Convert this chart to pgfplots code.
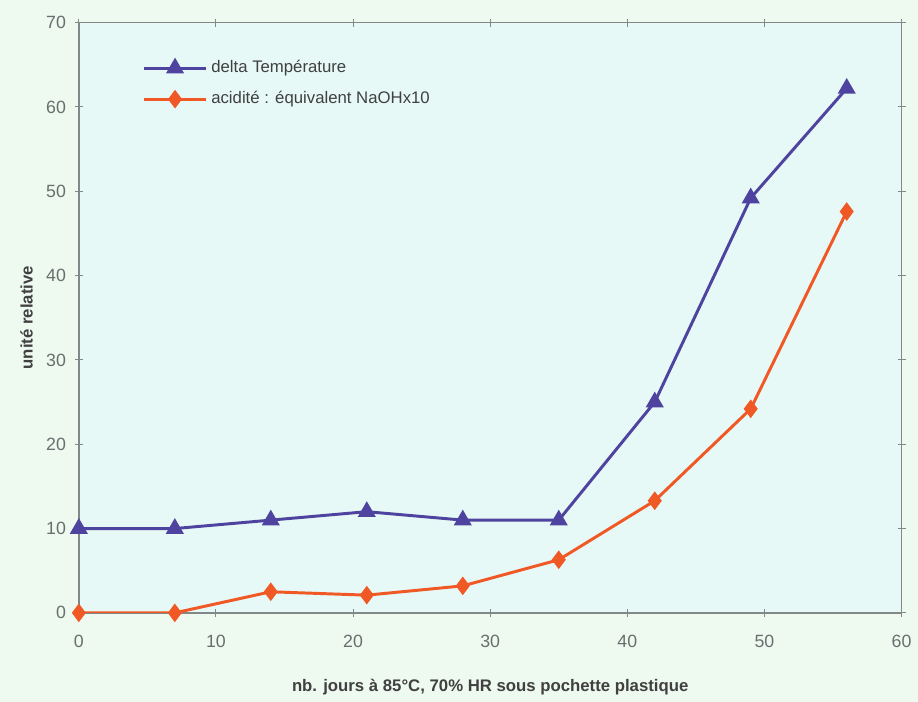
\documentclass[border=0pt]{standalone}
\usepackage{pgfplots}
\pgfplotsset{compat=1.18}
\usepackage{fontspec}
\setmainfont{Liberation Sans}
\usetikzlibrary{backgrounds}
\definecolor{bgc}{RGB}{238,249,240}
\definecolor{plotbg}{RGB}{230,249,246}
\definecolor{tblue}{RGB}{78,68,160}
\definecolor{torange}{RGB}{240,88,38}
\definecolor{axgray}{RGB}{130,135,135}
\definecolor{txtgray}{RGB}{105,110,110}
\begin{document}
\begin{tikzpicture}[show background rectangle, inner frame sep=0pt,
  background rectangle/.style={fill=bgc, draw=none}]
\begin{axis}[name=ax,
  width=417.5pt, height=299.5pt, scale only axis,
  xmin=0, xmax=60, ymin=0, ymax=70,
  xtick={0,10,...,60}, ytick={0,10,...,70},
  axis line style={axgray, line width=0.8pt},
  tick style={axgray, line width=0.5pt},
  tick align=center, major tick length=4pt,
  axis background/.style={fill=plotbg},
  ticklabel style={font=\fontsize{9}{10}\selectfont, text=txtgray},
  xticklabel style={yshift=-6pt},
  yticklabel style={xshift=-1pt},
  /pgf/number format/assume math mode=true,
  xlabel={\textbf{nb. jours à 85°C, 70\% HR sous pochette plastique}},
  ylabel={\textbf{unité relative}},
  xlabel style={font=\fontsize{8.5}{10}\selectfont, text=black!75, yshift=-9pt},
  ylabel style={font=\fontsize{8.5}{10}\selectfont, text=black!75, yshift=0pt},
  legend style={draw=none, fill=none, at={(0.07,0.95)}, anchor=north west,
    font=\fontsize{8.5}{10}\selectfont, text=black!75, row sep=4pt},
  legend cell align=left,
  legend image code/.code={
    \draw[#1, line width=1.5pt] (0cm,0cm) -- (1.1cm,0cm);
    \draw[#1, only marks] plot coordinates {(0.55cm,0cm)};
  },
]
\addplot[tblue, line width=1.5pt, mark=triangle*, mark size=3.8pt, mark options={solid}]
 coordinates {(0,10) (7,10) (14,11) (21,12) (28,11) (35,11) (42,25) (49,49.2) (56,62.2)};
\addlegendentry{delta Température}
\addplot[torange, line width=1.5pt, mark=diamond*, mark size=3.5pt, mark options={solid}]
 coordinates {(0,0) (7,0) (14,2.5) (21,2.1) (28,3.2) (35,6.3) (42,13.3) (49,24.2) (56,47.6)};
\addlegendentry{acidité : équivalent NaOHx10}
\end{axis}
\path ([shift={(-40pt,-38.5pt)}]ax.south west) rectangle ([shift={(1.5pt,11.5pt)}]ax.north east);
\end{tikzpicture}
\end{document}
